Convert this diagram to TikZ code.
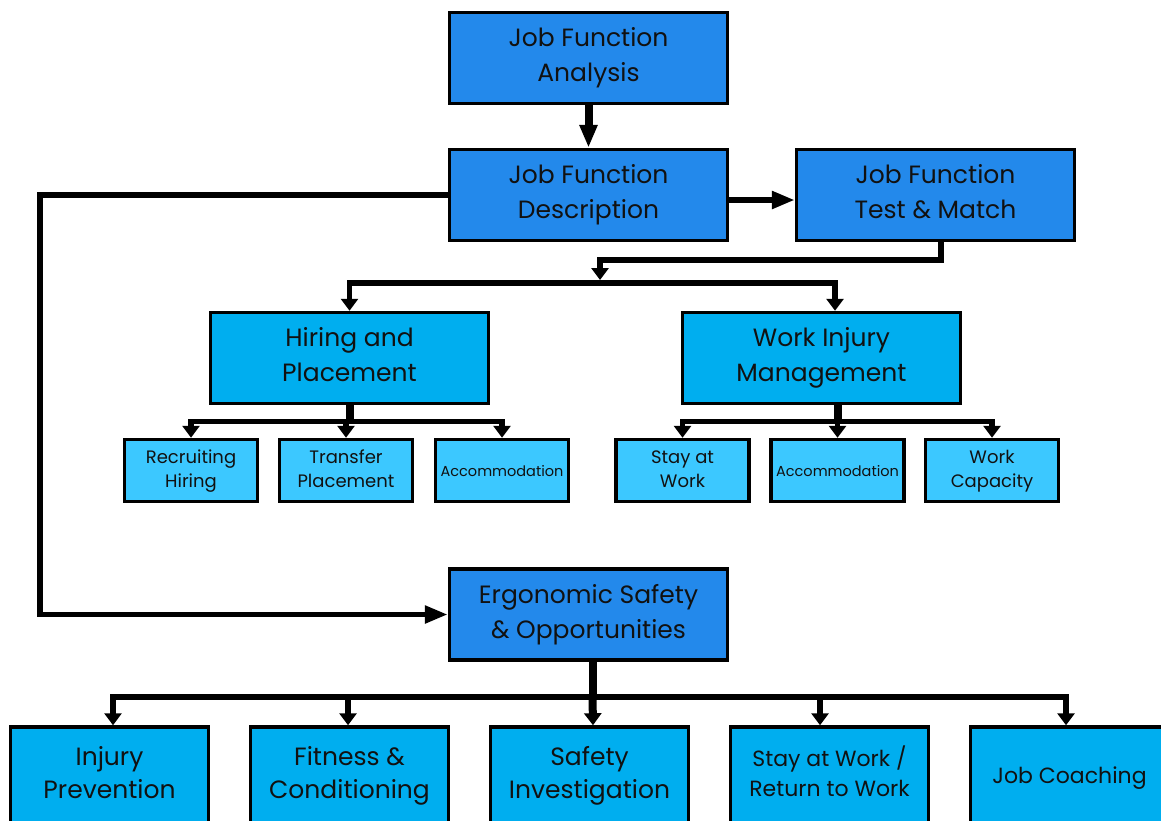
\documentclass[tikz,border=0pt]{standalone}
\usepackage{fontspec}
\setmainfont{Poppins}
\usetikzlibrary{arrows.meta}
\definecolor{bluemid}{HTML}{2389EB}
\definecolor{bluecyan}{HTML}{00AEEF}
\definecolor{bluelight}{HTML}{3CC8FF}
\definecolor{ink}{HTML}{111111}
\newcommand\upstrut[1]{\rule{0pt}{\dimexpr\ht\strutbox+#1\relax}}
\begin{document}
\begin{tikzpicture}[x=1pt,y=-1pt,
  box/.style={draw=black,line width=3.5pt,align=center,inner sep=0pt,text=ink,
    execute at end node={\strut}},
  topbox/.style={box,fill=bluemid,minimum width=278pt,minimum height=91pt,font=\fontsize{25}{35}\selectfont},
  midbox/.style={box,fill=bluecyan,minimum width=278pt,minimum height=91pt,font=\fontsize{25}{35}\selectfont},
  subbox/.style={box,fill=bluelight,minimum width=133pt,minimum height=62pt,font=\fontsize{18}{24}\selectfont},
  botbox/.style={box,fill=bluecyan,minimum width=198pt,minimum height=96pt,font=\fontsize{25}{33}\selectfont},
  tip/.style={-{Triangle[width=17pt,length=12pt]}},
  longtip/.style={-{Triangle[width=17pt,length=23pt]}},
  stem/.style={line width=8pt,line join=miter},
  branch/.style={line width=5.5pt,line join=miter}]
\useasboundingbox (0,0) rectangle (1161,820);
% nodes
\node[topbox] (JFA) at (588.5,58) {\upstrut{-2pt}Job Function\\Analysis};
\node[topbox] (JFD) at (588.5,195) {\upstrut{-2pt}Job Function\\Description};
\node[topbox] (JFT) at (935.5,195) {\upstrut{-2pt}Job Function\\Test \& Match};
\node[midbox] (HP) at (349.5,358) {\upstrut{-2pt}Hiring and\\Placement};
\node[midbox] (WIM) at (821.5,358) {\upstrut{-2pt}Work Injury\\Management};
\node[subbox] (RH) at (191,470.5) {\upstrut{0pt}Recruiting\\Hiring};
\node[subbox] (TP) at (346,470.5) {\upstrut{0pt}Transfer\\Placement};
\node[subbox,font=\fontsize{14.5}{20}\selectfont] (AC1) at (502,470.5) {\upstrut{3pt}Accommodation};
\node[subbox] (SW) at (682.5,470.5) {\upstrut{0pt}Stay at\\Work};
\node[subbox,font=\fontsize{14.5}{20}\selectfont] (AC2) at (837.5,470.5) {\upstrut{3pt}Accommodation};
\node[subbox] (WC) at (992,470.5) {\upstrut{0pt}Work\\Capacity};
\node[topbox] (ES) at (588.5,614.5) {\upstrut{-2pt}Ergonomic Safety\\\& Opportunities};
\node[botbox] (IP) at (109.5,775) {\upstrut{0pt}Injury\\Prevention};
\node[botbox] (FC) at (349.5,775) {\upstrut{0pt}Fitness \&\\Conditioning};
\node[botbox] (SI) at (589.5,775) {\upstrut{0pt}Safety\\Investigation};
\node[botbox,font=\fontsize{22}{30}\selectfont] (SR) at (829.5,775) {\upstrut{0pt}Stay at Work /\\Return to Work};
\node[botbox,font=\fontsize{22}{30}\selectfont] (JC) at (1069.5,775) {\upstrut{4pt}Job Coaching};
% connectors
\draw[stem,longtip] (JFA.south) -- (JFD.north);
\draw[branch,longtip] ([yshift=-5pt]JFD.east) -- ([yshift=-5pt]JFT.west);
\draw[branch,longtip] (JFD.west) -- ++(-408,0) |- (ES.west);
\coordinate (split) at (600,283);
\draw[branch,tip] ([xshift=5.5pt]JFT.south) |- ([yshift=23pt]split) -- (600,280);
\draw[branch,tip] (split) -| (HP.north);
\draw[branch,tip] (split) -| ([xshift=13.5pt]WIM.north);
% hiring branches
\draw[stem] (HP.south) -- ++(0,16) coordinate (hb);
\draw[branch,tip] (hb) -| (RH.north);
\draw[branch,tip] (hb) -- (TP.north |- hb) -- (TP.north);
\draw[branch,tip] (hb) -| (AC1.north);
% work injury branches
\draw[stem] ([xshift=16pt]WIM.south) -- ++(0,16) coordinate (wb);
\draw[branch,tip] (wb) -| (SW.north);
\draw[branch,tip] (wb) -| (AC2.north);
\draw[branch,tip] (wb) -| (WC.north);
% ergonomic branches
\draw[stem] ([xshift=4pt]ES.south) -- ++(0,35) coordinate (eb);
\draw[branch,tip] (eb) -| ([xshift=3.5pt]IP.north);
\draw[branch,tip] (eb) -| ([xshift=-1.5pt]FC.north);
\draw[stem,tip] (eb) -- ([xshift=3.5pt]SI.north);
\draw[branch,tip] (eb) -| ([xshift=-9.5pt]SR.north);
\draw[branch,tip] (eb) -| ([xshift=-3.5pt]JC.north);
\end{tikzpicture}
\end{document}
